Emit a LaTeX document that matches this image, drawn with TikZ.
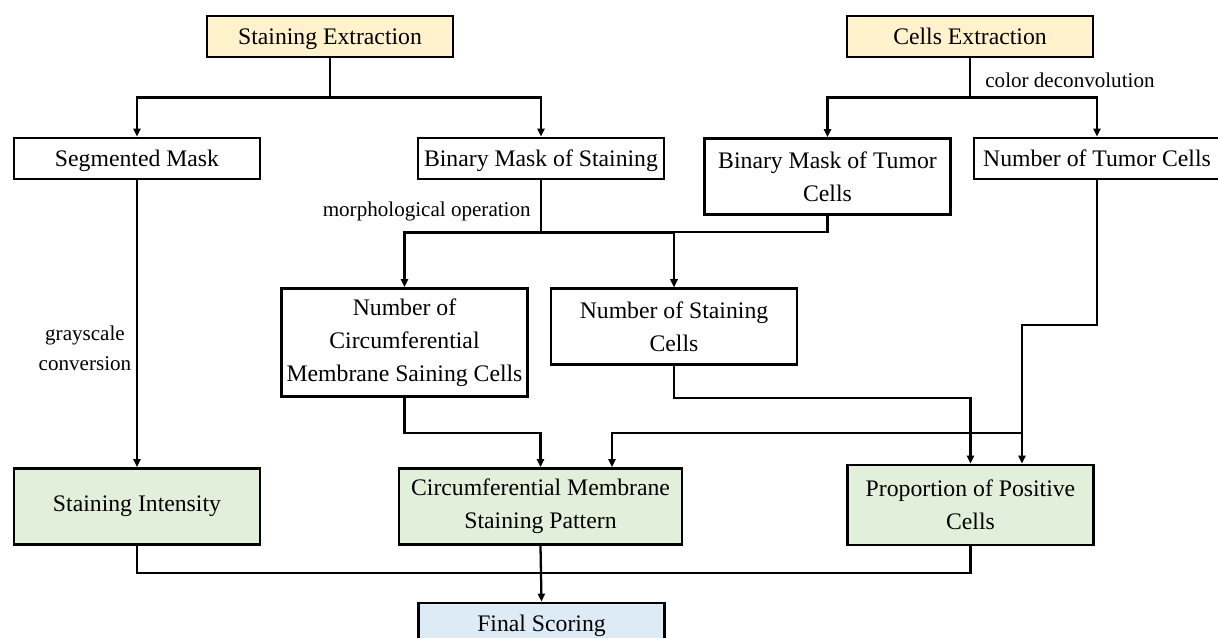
\documentclass[tikz,border=0pt]{standalone}
\usepackage{fontspec}
\setmainfont{Liberation Serif}
\usetikzlibrary{arrows.meta}
\definecolor{stepyellow}{HTML}{FFF2CC}
\definecolor{resultgreen}{HTML}{E2EFDA}
\definecolor{scoreblue}{HTML}{DDEBF7}

\begin{document}
\begin{tikzpicture}[x=0.02cm, y=-0.02cm,
    box/.style={draw, line width=1.6pt, align=center, inner sep=1pt,
      minimum width=4.92cm, minimum height=0.82cm,
      font=\fontsize{13.5}{18.7}\selectfont},
    oneline/.style={text height=11.5pt, text depth=2pt},
    note/.style={align=center, inner sep=0pt, font=\fontsize{12}{17}\selectfont},
    link/.style={line width=1.3pt},
    arr/.style={link, -{Triangle[length=4.5pt, width=4pt]}}]
  % page size of the reference
  \useasboundingbox (0,0) rectangle (1218,637);
  \clip (0,0) rectangle (1218,637);

  % extraction steps
  \node[box, oneline, fill=stepyellow] (se) at (330,36.5) {Staining Extraction};
  \node[box, oneline, fill=stepyellow] (ce) at (970,36.5) {Cells Extraction};

  % masks and counts
  \node[box, oneline] (sm)  at (137,158.5) {Segmented Mask};
  \node[box, oneline] (bms) at (541,158.5) {Binary Mask of Staining};
  \node[box, minimum height=1.52cm] (bmt) at (827.5,176.5) {Binary Mask of Tumor\\Cells};
  \node[box, oneline] (ntc) at (1097,158.5) {Number of Tumor Cells};
  \node[box, minimum height=2.16cm] (ncm) at (404.5,342.5) {Number of\\Circumferential\\Membrane Saining Cells};
  \node[box, minimum height=1.52cm] (nsc) at (674,326.5) {Number of Staining\\Cells};

  % scoring criteria
  \node[box, oneline, fill=resultgreen, minimum height=1.52cm, text depth=6pt] (si) at (137,506.5) {Staining Intensity};
  \node[box, fill=resultgreen, minimum width=5.66cm, minimum height=1.52cm] (cmsp) at (540.5,506.5) {Circumferential Membrane\\Staining Pattern};
  \node[box, fill=resultgreen, minimum height=1.6cm] (ppc) at (970.5,505) {Proportion of Positive\\Cells};
  \node[box, oneline, fill=scoreblue] (fs) at (541.5,623.5) {Final Scoring};

  % labels on the connectors
  \node[note, anchor=west] (cdLabel) at (985,80) {color deconvolution};
  \node[note, anchor=east] (moLabel) at (531,211) {morphological operation};
  \node[note] (gcLabel) at (85,348) {grayscale\\conversion};

  % connectors
  \draw[arr] (se.south) -- ++(0,39) -| (sm.north);
  \draw[arr] (se.south) -- ++(0,39) -| (bms.north);
  \draw[arr] (ce.south) -- ++(0,39) -| (bmt.north);
  \draw[arr] (ce.south) -- ++(0,39) -| (ntc.north);
  \draw[arr] (sm.south) -- (si.north);
  \draw[arr] (bms.south) -- ++(0,52) -| (ncm.north);
  \draw[arr] (bms.south) -- ++(0,52) -| (nsc.north);
  \draw[arr] (bmt.south) -- ++(0,16) -| (nsc.north);
  \draw[arr] (ncm.south) -- ++(0,35) -| (cmsp.north);
  \draw[arr] (nsc.south) -- ++(0,32) -| (ppc.north);
  \coordinate (tumorBend) at (1022,325);
  \coordinate (tumorSplit) at (1022,433);
  \draw[arr] (ntc.south) |- (tumorBend) -- (tumorBend |- ppc.north);
  \draw[arr] (tumorSplit) -| ([xshift=1.43cm]cmsp.north);
  \draw[link] (si.south) -- ++(0,27) -| (ppc.south);
  \draw[arr] (cmsp.south) -- (fs.north);
\end{tikzpicture}
\end{document}
